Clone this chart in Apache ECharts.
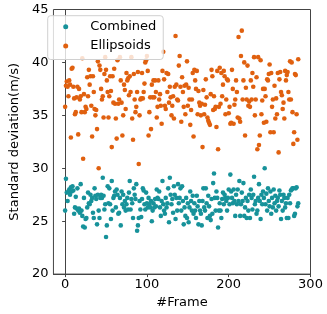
<!DOCTYPE html>
<html>
<head>
<meta charset="utf-8">
<script src="https://cdn.jsdelivr.net/npm/echarts@6/dist/echarts.min.js"></script>
<style>
  html, body { margin: 0; padding: 0; background: #fff; }
  #chart { width: 327px; height: 314px; }
</style>
</head>
<body>
<div id="chart"></div>
<script>
// std deviation per frame (index = frame number)
const combined = [
  26.0,29.0,27.7,26.9,27.8,28.0,27.5,28.2,27.8,28.3,
  27.9,25.7,26.3,27.3,26.2,28.1,26.0,26.2,25.8,28.5,
  26.0,25.5,24.5,27.2,24.4,25.2,25.3,26.3,27.7,26.7,
  26.6,27.5,26.9,27.2,25.8,25.3,28.1,27.4,27.1,24.7,
  27.5,26.0,25.3,27.2,27.5,27.2,29.1,27.4,26.1,26.6,
  23.5,24.6,28.3,26.7,28.1,26.6,25.2,28.8,26.0,27.2,
  27.4,27.8,26.3,28.0,27.5,25.7,25.8,27.2,24.6,27.8,
  26.6,27.5,26.3,26.9,26.0,26.6,27.2,26.1,27.7,28.8,
  26.1,27.1,26.7,25.3,28.1,27.5,27.1,28.5,24.1,24.6,
  25.3,26.9,26.1,25.4,27.1,28.1,27.9,26.6,26.1,27.7,
  26.7,26.3,27.2,26.6,26.3,26.9,25.0,26.0,26.7,
  26.3,27.1,26.4,28.0,27.2,27.1,27.8,26.3,25.5,
  26.9,28.8,26.6,26.0,25.7,27.2,26.3,26.7,28.1,24.9,
  29.1,27.5,26.6,27.1,25.8,28.3,27.5,25.2,27.2,26.0,
  28.5,26.7,27.2,28.1,26.0,28.3,26.9,24.7,26.3,
  25.5,27.2,25.3,26.7,24.9,26.3,27.8,26.9,26.0,
  27.4,25.7,26.7,26.0,25.3,27.4,26.4,24.7,26.9,26.0,
  25.7,24.6,26.9,28.1,26.3,26.0,28.1,26.7,25.3,
  27.4,26.4,25.5,25.1,27.1,25.7,28.6,29.5,27.2,26.0,
  27.8,27.2,24.4,26.0,26.7,26.0,25.3,27.1,27.7,26.6,
  27.5,27.2,26.9,26.0,27.2,28.0,26.6,29.4,27.8,
  27.2,26.7,28.0,26.9,25.5,27.5,26.6,28.0,26.9,28.8,
  25.5,26.6,27.7,26.9,28.6,25.5,26.3,27.2,25.3,26.9,
  26.0,27.5,25.3,28.0,27.2,26.1,27.5,29.2,26.6,
  26.9,25.7,26.0,27.2,28.5,26.9,25.2,27.5,26.6,
  27.8,27.2,30.0,26.6,27.6,26.0,28.1,26.9,26.4,27.8,
  25.7,27.2,26.3,28.0,26.7,27.4,26.0,26.9,27.2,26.4,
  27.9,27.5,25.2,26.9,26.0,27.5,27.2,26.3,26.7,
  25.3,27.2,25.3,27.5,26.7,27.9,28.0,28.1,28.1,25.5,25.7,28.1,28.2,26.4,26.7
];

const ellipsoids = [
  35.8,37.8,38.2,37.7,36.8,38.3,37.9,32.9,39.4,39.5,
  37.7,36.6,35.1,35.3,36.7,37.7,33.2,37.5,36.5,36.8,
  35.3,40.4,30.9,37.0,35.3,35.8,35.6,38.6,36.8,39.3,
  37.9,38.7,35.9,33.0,38.7,37.2,35.6,35.0,35.5,33.7,
  40.1,30.0,39.7,39.3,37.5,36.5,36.8,34.8,38.9,40.5,
  39.3,38.3,37.2,34.8,36.8,38.7,37.3,32.0,38.7,36.2,
  39.4,36.1,34.7,32.8,40.2,36.1,36.5,40.5,38.3,36.2,
  33.1,35.0,37.9,37.4,35.6,39.0,38.3,38.5,36.9,38.7,
  37.2,40.5,34.7,32.7,38.9,36.5,35.3,35.8,37.2,39.1,
  30.4,35.0,36.5,36.6,39.0,36.6,37.2,38.0,40.0,40.2,
  40.6,39.2,33.1,35.3,36.7,33.7,37.9,36.7,38.3,36.7,
  38.3,37.2,34.8,35.8,38.3,36.5,37.0,35.9,34.2,39.2,
  41.0,38.4,35.9,35.6,39.0,37.2,38.9,36.2,37.7,36.7,
  35.0,35.9,36.8,34.7,37.7,42.5,37.9,36.5,36.4,39.7,
  40.6,37.7,34.4,38.6,37.2,35.8,37.8,35.1,37.9,40.1,
  35.9,37.6,36.5,34.1,35.5,36.5,39.0,33.0,39.3,38.3,
  37.5,39.2,35.1,37.3,36.2,35.9,35.0,36.1,32.0,37.4,
  35.1,36.0,38.4,36.7,34.8,34.5,34.3,34.1,37.0,39.3,
  38.7,35.5,36.8,35.6,35.8,33.9,39.2,31.8,35.8,39.5,
  36.1,39.0,36.8,37.9,39.2,38.7,35.1,36.5,38.4,38.3,
  35.2,35.8,34.2,34.3,39.3,37.5,34.2,36.0,36.5,38.3,
  37.2,34.8,42.4,34.7,34.4,40.6,43.0,36.5,38.3,40.0,
  33.1,37.6,36.5,39.7,35.9,36.3,35.8,38.3,36.5,39.0,
  37.7,40.5,35.0,36.5,38.6,31.8,40.5,32.2,33.1,40.2,
  35.1,36.4,37.5,34.3,37.5,36.8,34.4,38.4,38.3,38.9,
  39.8,33.4,39.0,35.8,36.5,33.4,37.8,34.7,36.6,35.1,
  39.0,31.5,38.4,39.1,37.2,36.9,35.6,36.2,34.7,39.2,
  38.3,38.8,39.1,37.2,36.5,40.1,36.5,40.0,35.3,32.3,
  33.4,38.9,38.8,35.1,32.7,40.3
];

const xTicks = [0, 100, 200, 300];

const font = 'DejaVu Sans';
const axisColor = '#444';

function toPoints(arr) {
  return arr.map((v, i) => [i, v]);
}

const chart = echarts.init(document.getElementById('chart'), null, {renderer: 'canvas'});

chart.setOption({
  animation: false,
  backgroundColor: '#fff',
  grid: {
    left: 40.5, right: 16.5, top: 9.5, bottom: 37,
    show: true, borderColor: axisColor, borderWidth: 1,
    containLabel: false
  },
  legend: {
    z: 100,
    left: 47.7, top: 15.7,
    orient: 'vertical',
    icon: 'circle',
    itemWidth: 5, itemHeight: 5,
    itemGap: 3.3,
    padding: [3, 7, 5.5, 15.5],
    backgroundColor: 'rgba(255,255,255,0.8)',
    borderColor: '#d0d0d0', borderWidth: 1, borderRadius: 3,
    textStyle: {fontFamily: font, fontSize: 13, color: '#000', lineHeight: 16, padding: [0, 0, 0, 17]},
    data: ['Combined', 'Ellipsoids']
  },
  xAxis: {
    type: 'value',
    min: -14.3, max: 300,
    name: '#Frame',
    nameLocation: 'middle',
    nameGap: 20,
    nameTextStyle: {fontFamily: font, fontSize: 13, color: '#000'},
    axisLine: {show: true, lineStyle: {color: axisColor}},
    axisTick: {show: true, inside: false, length: 3, customValues: xTicks, lineStyle: {color: axisColor}},
    axisLabel: {customValues: xTicks, fontFamily: font, fontSize: 13, color: '#000', margin: 4},
    splitLine: {show: false}
  },
  yAxis: {
    type: 'value',
    min: 20, max: 45, interval: 5,
    name: 'Standard deviation(m/s)',
    nameLocation: 'middle',
    nameGap: 24,
    nameTextStyle: {fontFamily: font, fontSize: 13, color: '#000'},
    axisLine: {show: true, lineStyle: {color: axisColor}},
    axisTick: {show: true, inside: false, length: 3, lineStyle: {color: axisColor}},
    axisLabel: {fontFamily: font, fontSize: 13, color: '#000', margin: 5},
    splitLine: {show: false}
  },
  series: [
    {
      name: 'Combined',
      type: 'scatter',
      symbol: 'circle',
      symbolSize: 4.6,
      itemStyle: {color: '#17929a', opacity: 1},
      data: toPoints(combined)
    },
    {
      name: 'Ellipsoids',
      type: 'scatter',
      symbol: 'circle',
      symbolSize: 4.6,
      itemStyle: {color: '#e0600f', opacity: 1},
      data: toPoints(ellipsoids)
    }
  ]
});
</script>
</body>
</html>
